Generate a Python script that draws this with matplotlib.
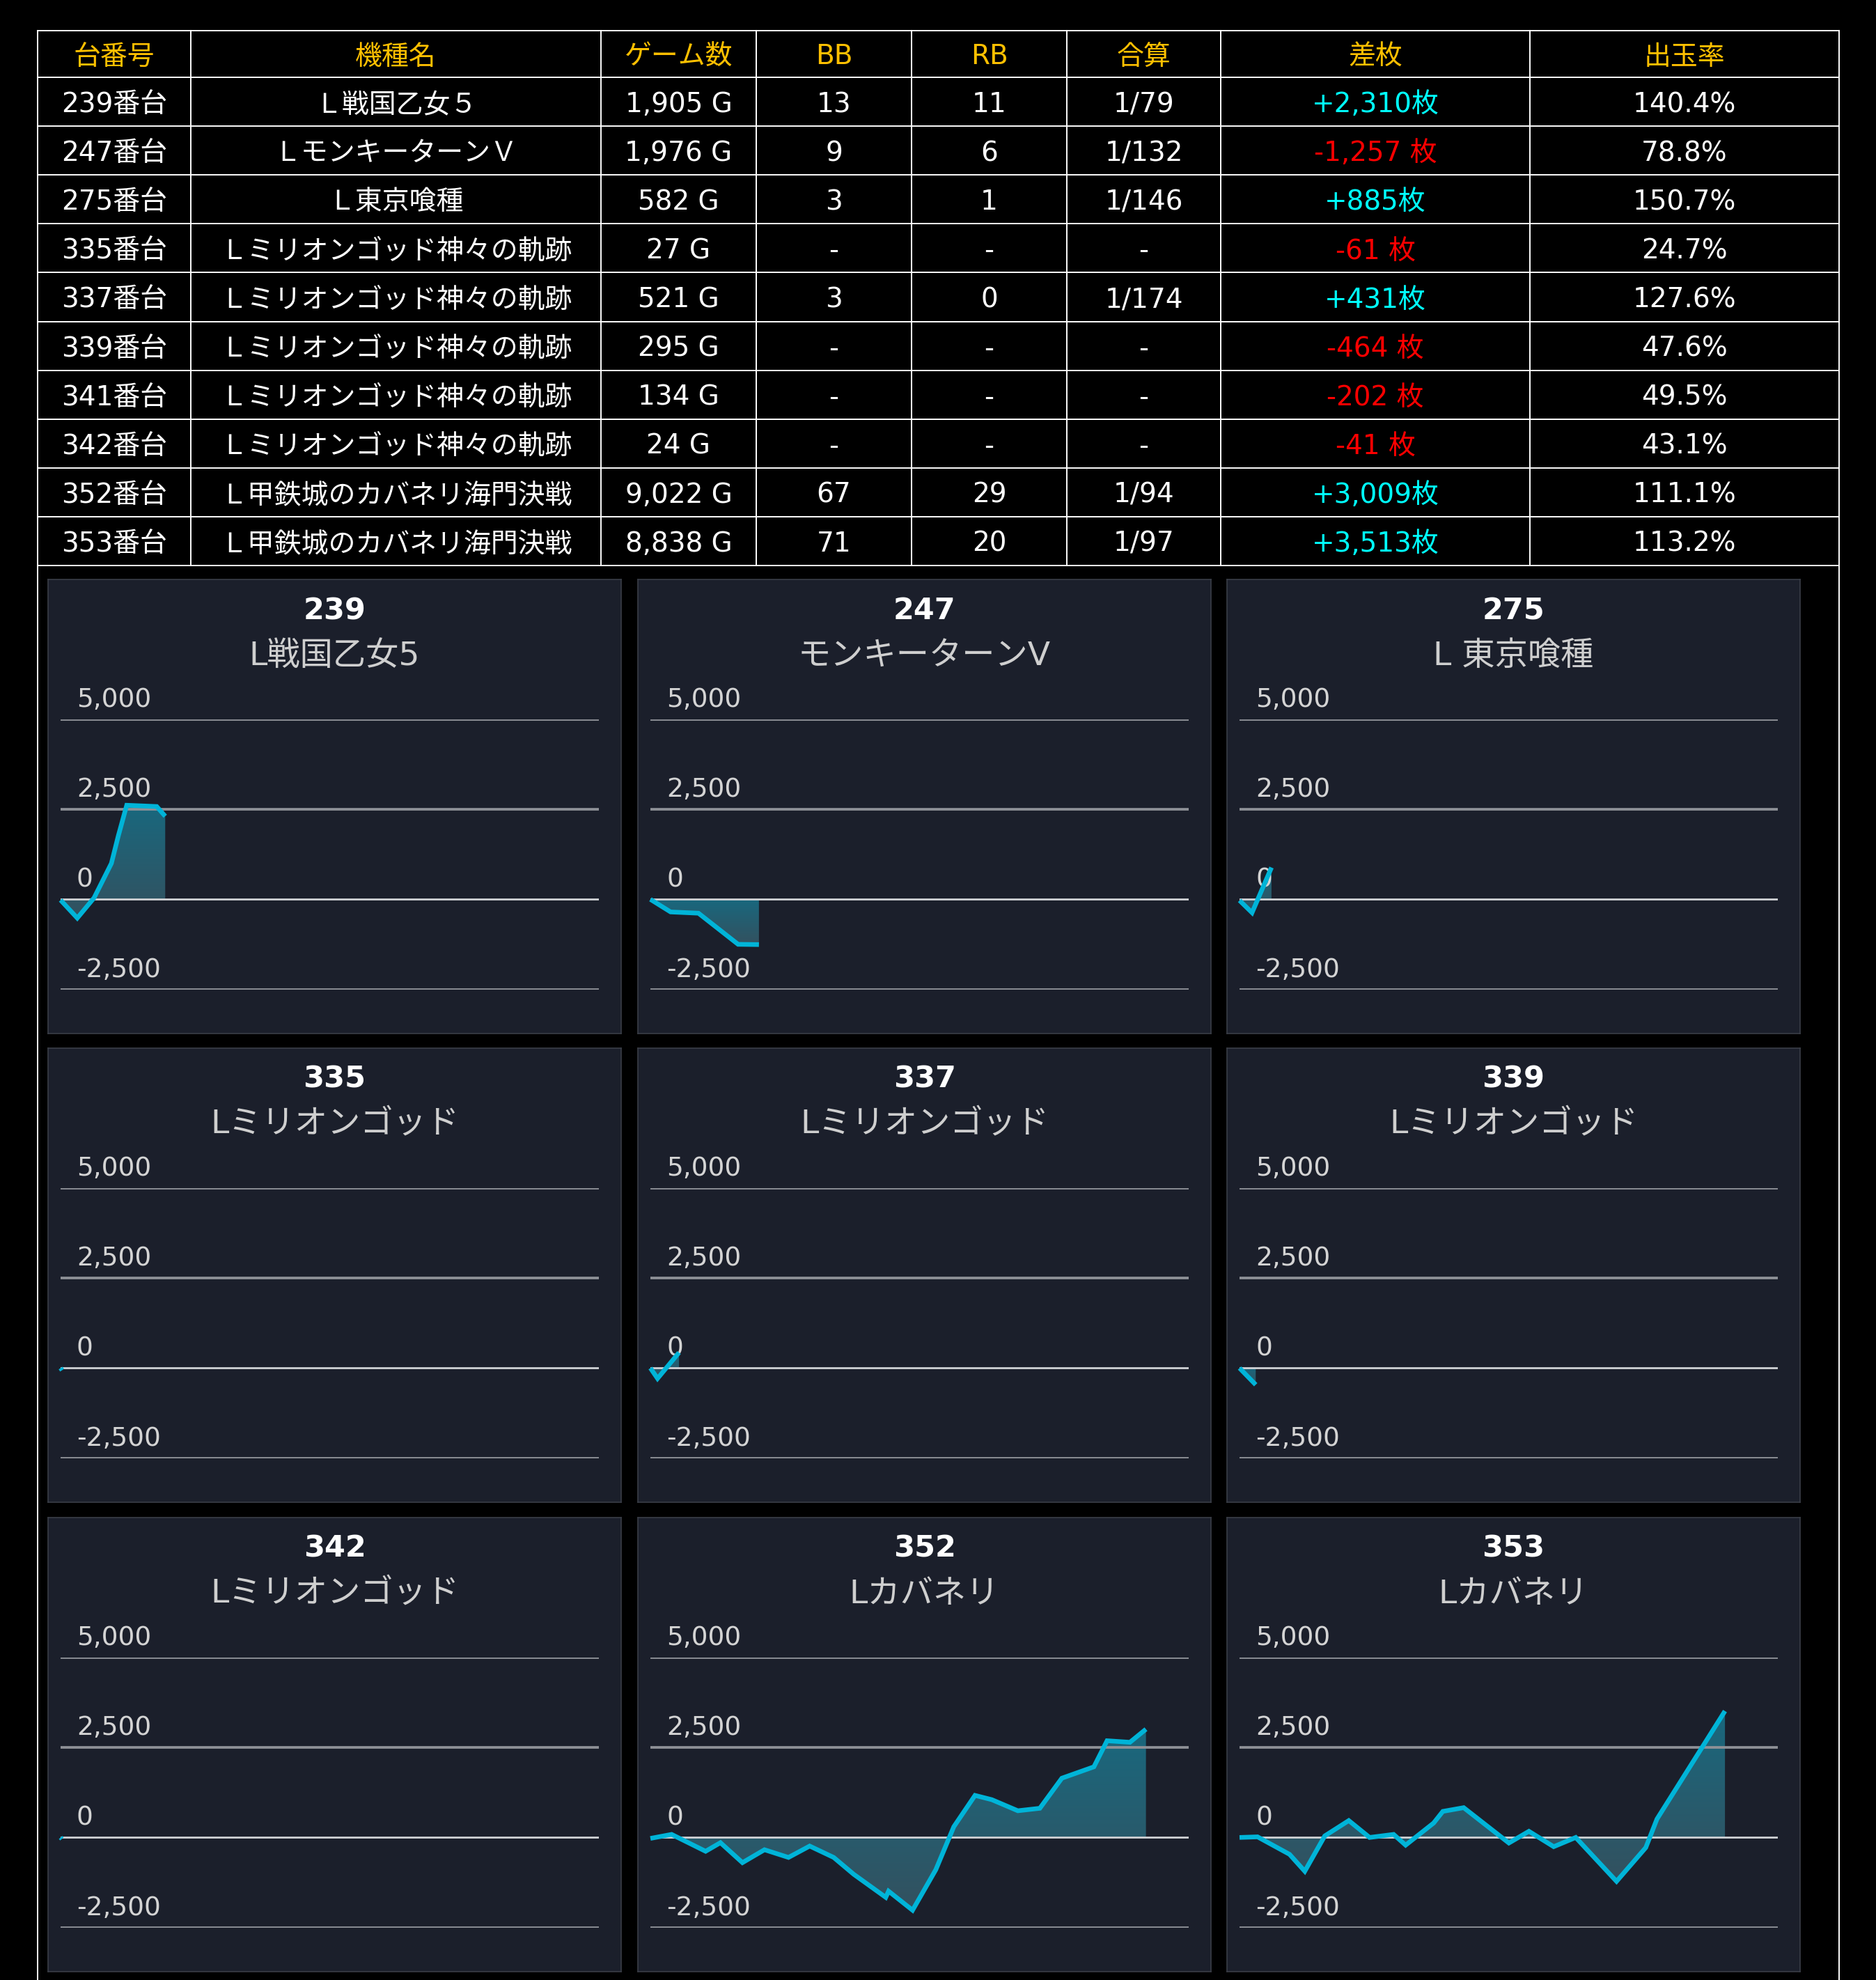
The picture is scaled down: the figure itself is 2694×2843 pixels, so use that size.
import numpy as np
import matplotlib
matplotlib.use("Agg")
import matplotlib.pyplot as plt
from matplotlib.colors import LinearSegmentedColormap

W, H = 2694, 2843
FONT = ['DejaVu Sans', 'Noto Sans CJK JP']

# ---- table data ----
header = ['台番号', '機種名', 'ゲーム数', 'BB', 'RB', '合算', '差枚', '出玉率']
units = ['239番台', '247番台', '275番台', '335番台', '337番台',
         '339番台', '341番台', '342番台', '352番台', '353番台']
names = ['Ｌ戦国乙女５', 'ＬモンキーターンＶ', 'Ｌ東京喰種',
         'Ｌミリオンゴッド神々の軌跡', 'Ｌミリオンゴッド神々の軌跡',
         'Ｌミリオンゴッド神々の軌跡', 'Ｌミリオンゴッド神々の軌跡',
         'Ｌミリオンゴッド神々の軌跡', 'Ｌ甲鉄城のカバネリ海門決戦',
         'Ｌ甲鉄城のカバネリ海門決戦']
games = ['1,905 G', '1,976 G', '582 G', '27 G', '521 G',
         '295 G', '134 G', '24 G', '9,022 G', '8,838 G']
bb = ['13', '9', '3', '-', '3', '-', '-', '-', '67', '71']
rb = ['11', '6', '1', '-', '0', '-', '-', '-', '29', '20']
total = ['1/79', '1/132', '1/146', '-', '1/174', '-', '-', '-', '1/94', '1/97']
diff = [2310, -1257, 885, -61, 431, -464, -202, -41, 3009, 3513]
rate = ['140.4%', '78.8%', '150.7%', '24.7%', '127.6%',
        '47.6%', '49.5%', '43.1%', '111.1%', '113.2%']

# ---- chart data (game count vs. coin difference) ----
chart_ids = ['239', '247', '275', '335', '337', '339', '342', '352', '353']
chart_names = ['L戦国乙女5', 'モンキーターンV', 'L 東京喰種',
               'Lミリオンゴッド', 'Lミリオンゴッド', 'Lミリオンゴッド',
               'Lミリオンゴッド', 'Lカバネリ', 'Lカバネリ']
x239 = [0, 304, 609, 925, 1052, 1204, 1750, 1905]
y239 = [-20, -520, 40, 1000, 1770, 2615, 2580, 2310]
x247 = [0, 368, 875, 1597, 1976]
y247 = [0, -350, -385, -1250, -1257]
x275 = [0, 228, 582]
y275 = [-30, -370, 885]
x335 = [0, 27]
y335 = [0, -61]
x337 = [0, 130, 521]
y337 = [0, -290, 431]
x339 = [0, 295]
y339 = [0, -464]
x342 = [0, 24]
y342 = [0, -41]
x352 = [0, 386, 1005, 1275, 1676, 2077, 2514, 2900, 3337, 3702, 4285, 4336,
        4773, 5196, 5524, 5910, 6216, 6690, 7090, 7491, 8074, 8314, 8730, 9022]
y352 = [-26, 85, -384, -145, -700, -341, -555, -239, -555, -1024, -1664, -1493,
        -2022, -896, 299, 1169, 1050, 742, 811, 1647, 1963, 2688, 2645, 3009]
x353 = [0, 328, 911, 1188, 1552, 1989, 2368, 2805, 3024, 3534, 3702, 4081,
        4904, 5269, 5720, 6121, 6864, 7396, 7600, 8838]
y353 = [0, 17, -469, -939, 43, 469, 0, 85, -213, 401, 725, 828,
        -154, 171, -256, 0, -1220, -282, 512, 3513]
series_x = [x239, x247, x275, x335, x337, x339, x342, x352, x353]
series_y = [y239, y247, y275, y335, y337, y339, y342, y352, y353]
ticks = [5000, 2500, 0, -2500]
XMAX = 9800

GOLD = '#ffc000'
CYAN = '#00ffff'
RED = '#ff0000'
PANEL = '#1b1f2b'
LINE = '#00b4d8'

fig = plt.figure(figsize=(W / 100, H / 100), dpi=100, facecolor='black')
ov = fig.add_axes([0, 0, 1, 1])
ov.set_xlim(0, W)
ov.set_ylim(H, 0)
ov.axis('off')

# table grid
col_x = [54, 274, 863, 1086, 1309, 1532, 1753, 2197, 2641]
row_y = [44, 111] + [111 + 70.1 * (k + 1) for k in range(10)]
for y in row_y:
    ov.plot([col_x[0], col_x[-1]], [y, y], color='white', lw=1.4)
for x in col_x[1:-1]:
    ov.plot([x, x], [row_y[0], row_y[-1]], color='white', lw=1.4)
for x in (col_x[0], col_x[-1]):
    ov.plot([x, x], [row_y[0], H], color='white', lw=1.4)

fs = 28
centers = [(col_x[i] + col_x[i + 1]) / 2 for i in range(8)]
for i, h in enumerate(header):
    ov.text(centers[i], (row_y[0] + row_y[1]) / 2 + 4, h, color=GOLD, fontsize=fs,
            ha='center', va='center', family=FONT)
for r in range(10):
    yc = (row_y[r + 1] + row_y[r + 2]) / 2 + 4
    d = diff[r]
    dtxt = '+{:,}枚'.format(d) if d > 0 else '{:,} 枚'.format(d)
    cells = [units[r], names[r], games[r], bb[r], rb[r], total[r], dtxt, rate[r]]
    for i, c in enumerate(cells):
        col = 'white'
        if i == 6:
            col = CYAN if d > 0 else RED
        ov.text(centers[i], yc, c, color=col, fontsize=fs,
                ha='center', va='center', family=FONT)

# chart panels
pan_left = [69, 916, 1762]
pan_top = [832, 1505, 2179]
PW, PH = 823, 652
for k in range(9):
    pl = pan_left[k % 3]
    pt = pan_top[k // 3]
    bg = fig.add_axes([pl / W, 1 - (pt + PH) / H, PW / W, PH / H])
    bg.set_facecolor(PANEL)
    bg.set_xticks([])
    bg.set_yticks([])
    for s in bg.spines.values():
        s.set_color('#3a3e47')
        s.set_linewidth(1.2)
    bg.text(0.5, 1 - 45 / PH, chart_ids[k], transform=bg.transAxes, color='white',
            fontsize=31, fontweight='bold', ha='center', va='center', family=FONT)
    bg.text(0.5, 1 - 110 / PH, chart_names[k], transform=bg.transAxes,
            color='#cfcfcf', fontsize=34, ha='center', va='center', family=FONT)

    top = pt + 201
    bot = pt + 588.5
    ax = fig.add_axes([(pl + 18) / W, 1 - bot / H, 773 / W, (bot - top) / H])
    ax.axis('off')
    xs = np.array(series_x[k], dtype=float)
    ys = np.array(series_y[k], dtype=float)

    poly = ax.fill_between(xs, ys, 0, color='none', lw=0)
    lo, hi = min(ys.min(), 0), max(ys.max(), 0)
    cmap = LinearSegmentedColormap.from_list('g', ['#33515f', '#19687e'])
    grad = np.linspace(0, 1, 256).reshape(-1, 1)
    im = ax.imshow(grad, extent=[0, xs[-1], lo, hi], origin='lower', aspect='auto',
                   cmap=cmap, zorder=1, interpolation='bilinear')
    im.set_clip_path(poly.get_paths()[0], transform=ax.transData)

    for t in ticks:
        if t == 0:
            ax.axhline(t, color='#d0d2d5', lw=2.0, zorder=2)
        else:
            ax.axhline(t, color='#8e9197', lw=2.7, zorder=2)
        ax.annotate('{:,}'.format(t), xy=(23 / 773, t), xycoords=('axes fraction', 'data'),
                    xytext=(0, 20), textcoords='offset points', color='#d4d4d4',
                    fontsize=27, ha='left', va='center', family=FONT,
                    annotation_clip=False)
    ax.plot(xs, ys, color=LINE, lw=4.8, zorder=3, solid_joinstyle='miter',
            solid_capstyle='butt', clip_on=False)
    ax.set_xlim(0, XMAX)
    ax.set_ylim(-2500, 5000)

fig.savefig('out.png', dpi=100, facecolor='black')
